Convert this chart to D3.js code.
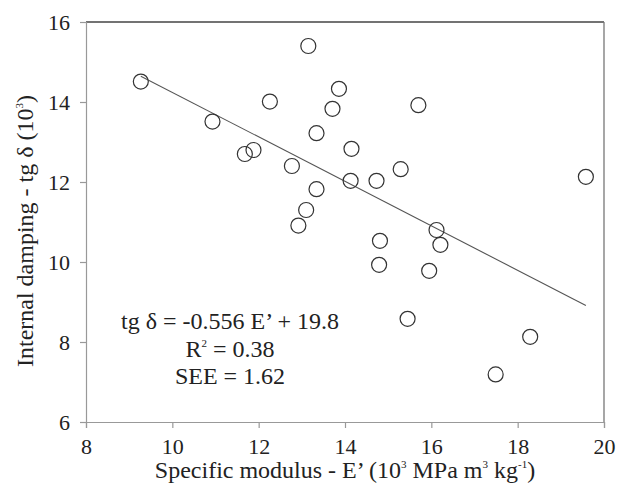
<!DOCTYPE html>
<html lang="en">
<head>
<meta charset="utf-8">
<title>Internal damping vs specific modulus</title>
<script src="https://cdn.jsdelivr.net/npm/d3@7"></script>
<style>
body { margin: 0; background: #fff; }
svg, svg text { font-family: 'Liberation Serif', 'Times New Roman', Times, serif !important; }
</style>
</head>
<body>
<svg width="624" height="491"></svg>
<script>
// specific modulus E' (10^3 MPa m3 kg-1)
var modulus = [9.27, 10.93, 11.68, 11.88, 12.26, 12.77, 13.15, 13.34, 13.34, 13.10,
               12.92, 13.86, 13.71, 14.15, 15.70, 14.13, 14.73, 15.29, 19.58, 16.12,
               16.21, 14.81, 14.79, 15.95, 15.45, 18.29, 17.49];
// internal damping tg delta (10^3)
var damping = [14.51, 13.51, 12.70, 12.80, 14.01, 12.40, 15.40, 13.22, 11.82, 11.30,
               10.91, 14.33, 13.83, 12.83, 13.92, 12.03, 12.03, 12.32, 12.13, 10.80,
               10.43, 10.53, 9.93, 9.78, 8.58, 8.13, 7.19];

var xTicks = [8, 10, 12, 14, 16, 18, 20];
var yTicks = [6, 8, 10, 12, 14, 16];
var slope = -0.556, intercept = 19.8;
var fitRange = [9.27, 19.58];
var eqLines = ["tg δ = -0.556 E’ + 19.8", "R2", "SEE = 1.62"];

var FONT = "'Liberation Serif', 'Times New Roman', serif";
var svg = d3.select("svg").style("font-family", FONT);
var m = {left: 86, top: 22, right: 604, bottom: 422};

var x = d3.scaleLinear().domain([8, 20]).range([m.left, m.right]);
var y = d3.scaleLinear().domain([6, 16]).range([m.bottom, m.top]);

// frame top/right
svg.append("line").attr("x1", m.left).attr("x2", m.right).attr("y1", m.top).attr("y2", m.top)
  .attr("stroke", "#444").attr("stroke-width", 1.3);
svg.append("line").attr("x1", m.right).attr("x2", m.right).attr("y1", m.top).attr("y2", m.bottom)
  .attr("stroke", "#777").attr("stroke-width", 1.3);

var xAxis = svg.append("g").attr("transform", "translate(0," + m.bottom + ")")
  .call(d3.axisBottom(x).tickValues(xTicks).tickSize(6).tickPadding(10).tickFormat(d3.format("d")));
var yAxis = svg.append("g").attr("transform", "translate(" + m.left + ",0)")
  .call(d3.axisLeft(y).tickValues(yTicks).tickSize(6).tickPadding(10).tickFormat(d3.format("d")));

[xAxis, yAxis].forEach(function(a) {
  a.attr("font-family", null).attr("font-size", null);
  a.select(".domain").attr("stroke", "#999").attr("stroke-width", 1.2);
  a.selectAll(".tick line").attr("stroke", "#999").attr("stroke-width", 1.2);
  a.selectAll(".tick text").style("font-size", "22px").style("font-family", FONT).attr("fill", "#222");
});
xAxis.selectAll(".tick text").attr("dy", "0.74em");
yAxis.selectAll(".tick text").attr("dy", "0.35em");

// regression line
svg.append("line")
  .attr("x1", x(fitRange[0])).attr("y1", y(slope * fitRange[0] + intercept))
  .attr("x2", x(fitRange[1])).attr("y2", y(slope * fitRange[1] + intercept))
  .attr("stroke", "#555").attr("stroke-width", 1.1);

// points
svg.selectAll(".pt").data(modulus).enter().append("circle")
  .attr("class", "pt")
  .attr("cx", function(d) { return x(d); })
  .attr("cy", function(d, i) { return y(damping[i]); })
  .attr("r", 7.5)
  .attr("fill", "none")
  .attr("stroke", "#333")
  .attr("stroke-width", 1.2);

// equation text
var eq = svg.append("g").style("font-size", "24px").attr("text-anchor", "middle").attr("fill", "#222");
eq.append("text").attr("x", 230).attr("y", 329).text(eqLines[0]);
var r2 = eq.append("text").attr("x", 230).attr("y", 357);
r2.append("tspan").text("R");
r2.append("tspan").style("font-size", "11px").attr("dy", -10).text("2");
r2.append("tspan").attr("dy", 10).text(" = 0.38");
eq.append("text").attr("x", 230).attr("y", 384).text(eqLines[2]);

// x title
var xt = svg.append("text").attr("x", (m.left + m.right) / 2).attr("y", 478)
  .attr("text-anchor", "middle").style("font-size", "24px").attr("fill", "#222");
xt.append("tspan").text("Specific modulus - E’ (10");
xt.append("tspan").style("font-size", "11px").attr("dy", -10).text("3");
xt.append("tspan").attr("dy", 10).text(" MPa m");
xt.append("tspan").style("font-size", "11px").attr("dy", -10).text("3");
xt.append("tspan").attr("dy", 10).text(" kg");
xt.append("tspan").style("font-size", "11px").attr("dy", -10).text("-1");
xt.append("tspan").attr("dy", 10).text(")");

// y title
var yt = svg.append("text").attr("transform", "translate(33," + 231 + ") rotate(-90)")
  .attr("text-anchor", "middle").style("font-size", "24px").attr("fill", "#222");
yt.append("tspan").text("Internal damping - tg δ (10");
yt.append("tspan").style("font-size", "11px").attr("dy", -10).text("3");
yt.append("tspan").attr("dy", 10).text(")");
</script>
</body>
</html>
